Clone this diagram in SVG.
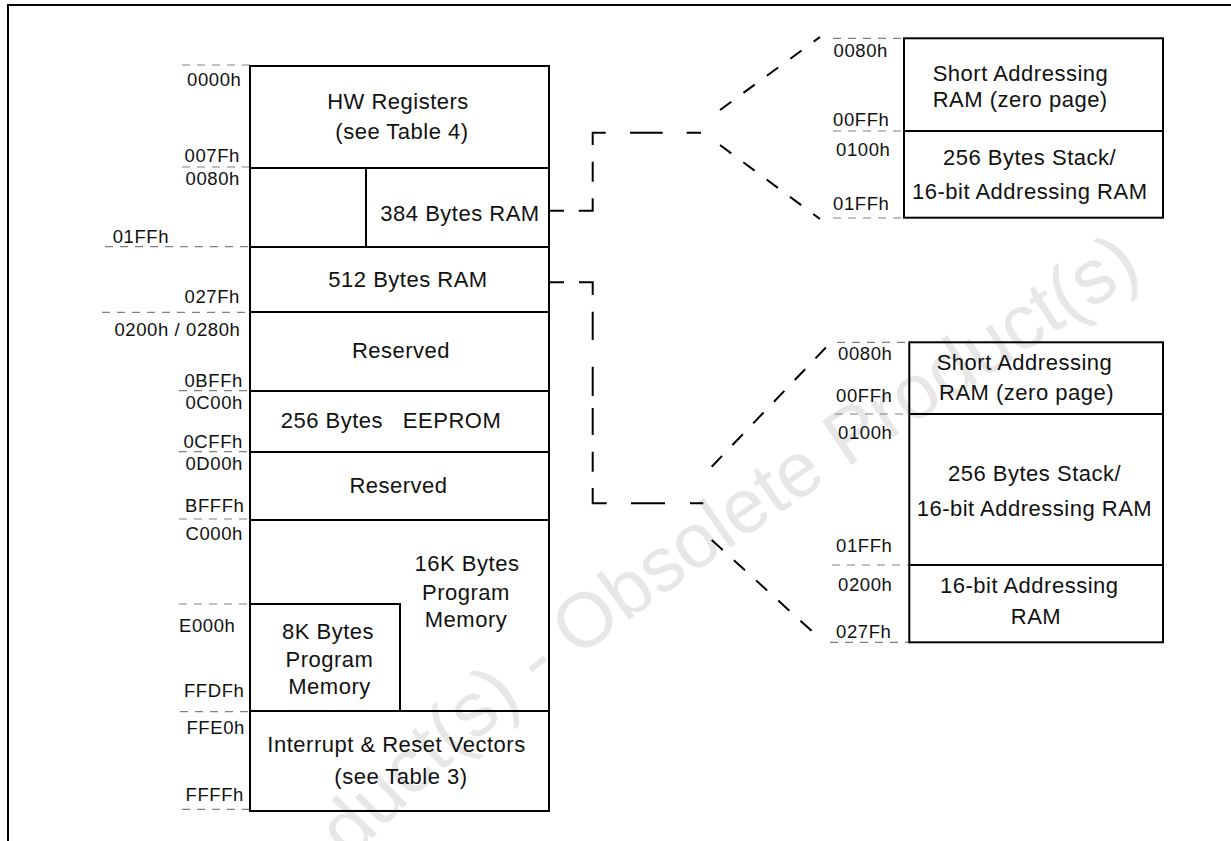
<svg xmlns="http://www.w3.org/2000/svg" width="1231" height="841" viewBox="0 0 1231 841">
<defs>
<style>
.blk{fill:none;stroke:#000;stroke-width:2}
.t{font-family:"Liberation Sans",Arial,sans-serif;font-size:22px;letter-spacing:0.5px;fill:#111}
.c{text-anchor:middle}
.a{font-family:"Liberation Sans",Arial,sans-serif;font-size:18.5px;letter-spacing:0.6px;fill:#111;text-anchor:end}
.as{font-family:"Liberation Sans",Arial,sans-serif;font-size:18.5px;letter-spacing:0.6px;fill:#111}
.gd{stroke:#808080;stroke-width:1.2;stroke-dasharray:8 7;fill:none}
.cn{stroke:#000;stroke-width:2;fill:none}
.wm{font-family:"Liberation Sans",Arial,sans-serif;font-size:77px;fill:#e7e7e7}
</style>
<path id="wmpath" d="M 270 960 C 430 740, 680 570, 1230 220"/>
</defs>
<rect width="1231" height="841" fill="#fff"/>
<g id="watermark">
<text class="wm"><textPath href="#wmpath" startOffset="8">Product(s) - Obsolete Product(s)</textPath></text>
</g>
<g id="frame">
<path d="M8 841 V5 H1231" fill="none" stroke="#000" stroke-width="2"/>
</g>
<g id="address-guides">
<line class="gd" x1="182" y1="65" x2="250" y2="65"/>
<line class="gd" x1="182" y1="167" x2="250" y2="167"/>
<line class="gd" x1="105" y1="246.7" x2="250" y2="246.7"/>
<line class="gd" x1="102" y1="312.3" x2="250" y2="312.3"/>
<line class="gd" x1="179" y1="390.7" x2="250" y2="390.7"/>
<line class="gd" x1="179" y1="451.7" x2="250" y2="451.7"/>
<line class="gd" x1="179" y1="519" x2="250" y2="519"/>
<line class="gd" x1="179" y1="604" x2="250" y2="604"/>
<line class="gd" x1="180" y1="711.7" x2="250" y2="711.7"/>
<line class="gd" x1="182" y1="809.3" x2="250" y2="809.3"/>
<line class="gd" x1="833" y1="38.3" x2="904" y2="38.3"/>
<line class="gd" x1="833" y1="131" x2="904" y2="131"/>
<line class="gd" x1="833" y1="218" x2="904" y2="218"/>
<line class="gd" x1="837" y1="342.3" x2="909" y2="342.3"/>
<line class="gd" x1="835" y1="414" x2="909" y2="414"/>
<line class="gd" x1="832" y1="565" x2="909" y2="565"/>
<line class="gd" x1="830" y1="642.3" x2="909" y2="642.3"/>
</g>
<g id="address-labels">
<text class="a" x="241.5" y="86">0000h</text>
<text class="a" x="240" y="161.7">007Fh</text>
<text class="a" x="240" y="185">0080h</text>
<text class="as" x="112.7" y="242.7">01FFh</text>
<text class="a" x="240" y="303.3">027Fh</text>
<text class="a" x="240.5" y="336">0200h / 0280h</text>
<text class="a" x="243" y="386.7">0BFFh</text>
<text class="a" x="243" y="409.3">0C00h</text>
<text class="a" x="243" y="447.7">0CFFh</text>
<text class="a" x="243" y="470">0D00h</text>
<text class="a" x="244.5" y="511.7">BFFFh</text>
<text class="a" x="243" y="540">C000h</text>
<text class="as" x="179" y="631.7">E000h</text>
<text class="a" x="244.5" y="697.3">FFDFh</text>
<text class="a" x="245" y="734.3">FFE0h</text>
<text class="a" x="244" y="801">FFFFh</text>
<text class="a" x="888" y="56.7">0080h</text>
<text class="a" x="889.5" y="126">00FFh</text>
<text class="a" x="890.5" y="156">0100h</text>
<text class="a" x="889.5" y="210">01FFh</text>
<text class="a" x="892.5" y="360">0080h</text>
<text class="a" x="892.5" y="401.7">00FFh</text>
<text class="a" x="892.5" y="439.3">0100h</text>
<text class="a" x="892.5" y="551.7">01FFh</text>
<text class="a" x="892.5" y="590.7">0200h</text>
<text class="a" x="891.5" y="638.3">027Fh</text>
</g>
<g id="node-hw-registers">
<rect class="blk" x="250" y="66" width="299" height="102"/>
<text class="t c" x="398" y="109">HW Registers</text>
<text class="t c" x="402" y="139">(see Table 4)</text>
</g>
<g id="node-384-ram">
<path class="blk" d="M250 168 V247 H549 V168 M366 168 V247"/>
<text class="t c" x="460" y="220.7">384 Bytes RAM</text>
</g>
<g id="node-512-ram">
<rect class="blk" x="250" y="247" width="299" height="65"/>
<text class="t c" x="408" y="286.7">512 Bytes RAM</text>
</g>
<g id="node-reserved-1">
<rect class="blk" x="250" y="312" width="299" height="79"/>
<text class="t c" x="401" y="358.3">Reserved</text>
</g>
<g id="node-eeprom">
<rect class="blk" x="250" y="391" width="299" height="61"/>
<text class="t" x="280.7" y="428.3" style="white-space:pre">256 Bytes   EEPROM</text>
</g>
<g id="node-reserved-2">
<rect class="blk" x="250" y="452" width="299" height="68"/>
<text class="t c" x="398.5" y="493.3">Reserved</text>
</g>
<g id="node-16k">
<path class="blk" d="M250 520 H549 V711 H250 Z"/>
<text class="t c" x="467" y="571">16K Bytes</text>
<text class="t c" x="466" y="600">Program</text>
<text class="t c" x="466" y="627.3">Memory</text>
</g>
<g id="node-8k">
<path class="blk" d="M250 604 H400 V711"/>
<text class="t c" x="328" y="639.3">8K Bytes</text>
<text class="t c" x="329.5" y="667.3">Program</text>
<text class="t c" x="329.5" y="694">Memory</text>
</g>
<g id="node-vectors">
<rect class="blk" x="250" y="711" width="299" height="100"/>
<text class="t c" x="396.5" y="752.3">Interrupt &amp; Reset Vectors</text>
<text class="t c" x="401" y="784">(see Table 3)</text>
</g>
<g id="node-zoom-384">
<rect class="blk" x="904" y="38.3" width="259" height="179.4"/>
<line class="blk" x1="904" y1="131" x2="1163" y2="131"/>
<text class="t" x="932.7" y="80.7">Short Addressing</text>
<text class="t" x="932.7" y="106.7">RAM (zero page)</text>
<text class="t" x="943" y="165">256 Bytes Stack/</text>
<text class="t" x="912" y="199.3">16-bit Addressing RAM</text>
</g>
<g id="node-zoom-512">
<rect class="blk" x="909.3" y="342.3" width="253.7" height="300"/>
<line class="blk" x1="909.3" y1="414" x2="1163" y2="414"/>
<line class="blk" x1="909.3" y1="565" x2="1163" y2="565"/>
<text class="t" x="936.7" y="370">Short Addressing</text>
<text class="t" x="939" y="400">RAM (zero page)</text>
<text class="t" x="948" y="480.7">256 Bytes Stack/</text>
<text class="t" x="916.7" y="516">16-bit Addressing RAM</text>
<text class="t" x="940" y="593">16-bit Addressing</text>
<text class="t c" x="1036" y="624">RAM</text>
</g>
<g id="connectors">
<path class="cn" d="M549 210.7 H564 M578.7 210.7 H592.7 V198.3 M592.7 181.7 V161.7 M592.7 145 V132.7 H605.7 M630 132.7 H662.7 M686.7 132.7 H701"/>
<line class="cn" x1="720" y1="110" x2="820" y2="37" stroke-dasharray="14 15"/>
<line class="cn" x1="720" y1="145" x2="820" y2="219" stroke-dasharray="14 15"/>
<path class="cn" d="M549 282.3 H564 M579 282.3 H592.7 V295 M592.7 311.7 V340 M592.7 366.7 V396 M592.7 408 V435 M592.7 451.7 V471.7 M592.7 488 V503.3 H606.7 M631 503.3 H665 M690 503.3 H703.3"/>
<line class="cn" x1="711.7" y1="466.7" x2="828.3" y2="345" stroke-dasharray="15 15"/>
<line class="cn" x1="711.7" y1="540" x2="818.3" y2="637" stroke-dasharray="15 15"/>
</g>
</svg>
